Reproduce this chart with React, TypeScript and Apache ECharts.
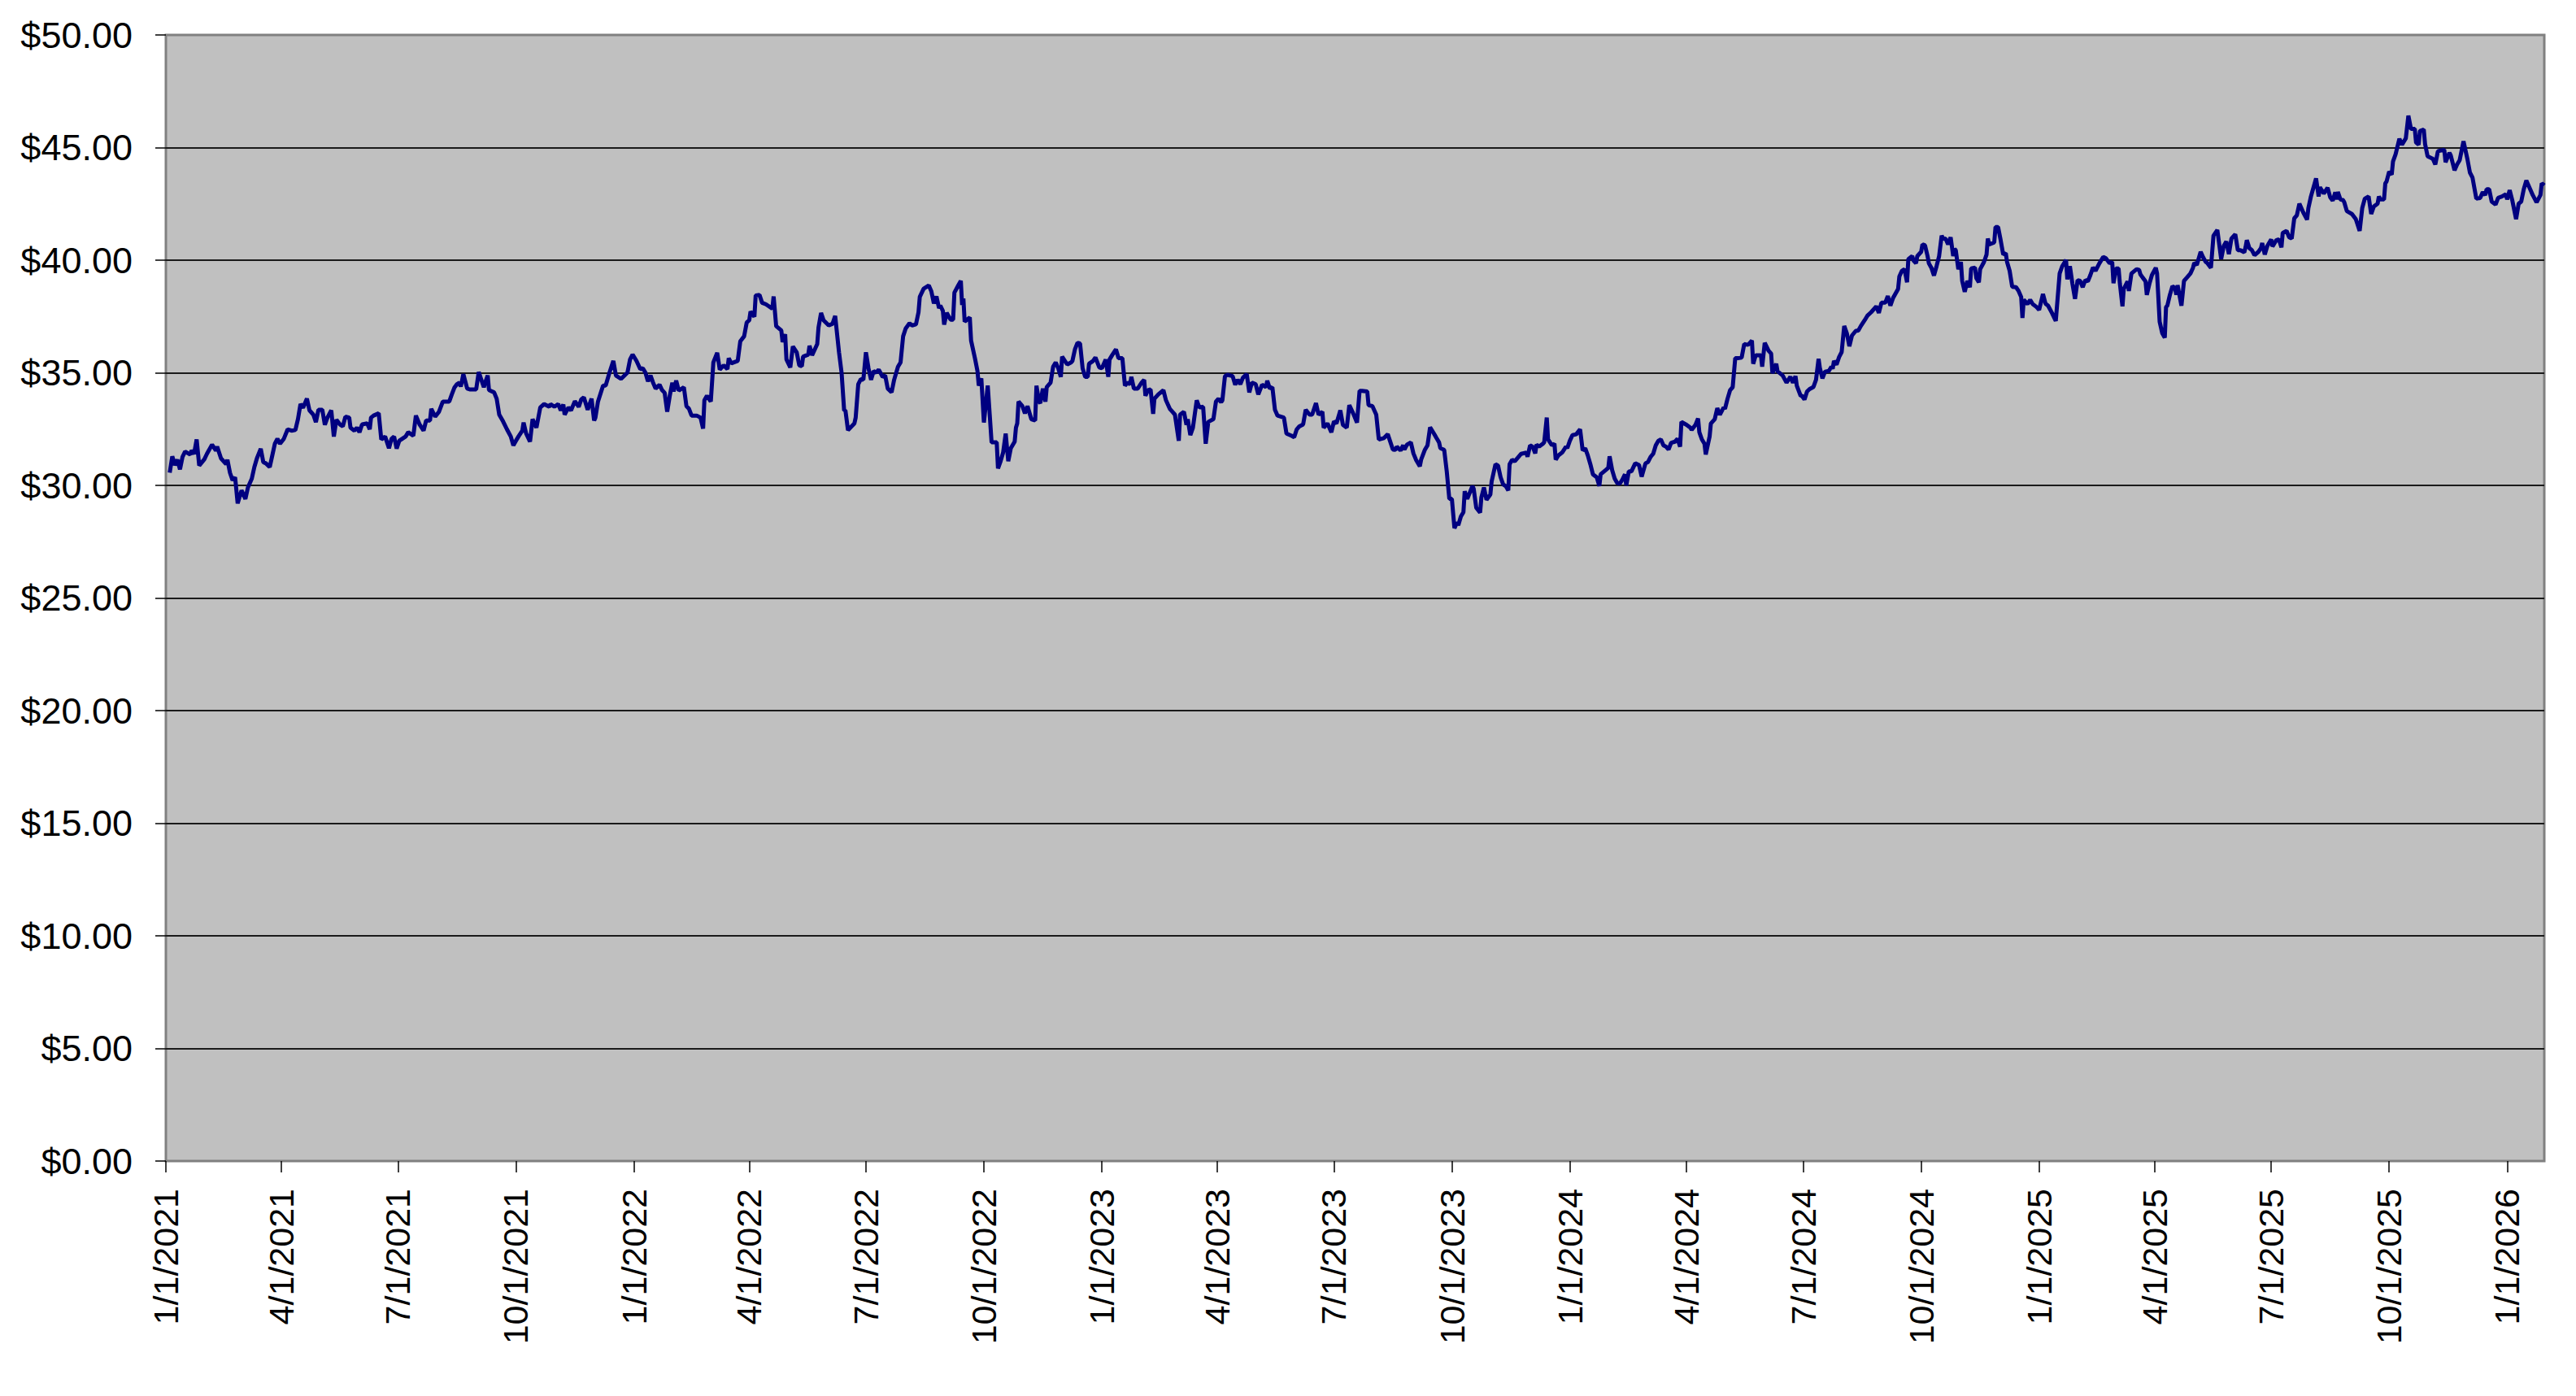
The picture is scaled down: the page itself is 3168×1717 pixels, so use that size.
import React, { useEffect, useRef } from "react";
import * as echarts from "echarts";

// Daily closing price readings, [date, price in USD]
const prices2021: [string, number][] = [
  ["2021-01-04",30.56],["2021-01-06",31.29],["2021-01-08",30.90],["2021-01-10",31.14],["2021-01-12",30.71],["2021-01-14",31.27],["2021-01-16",31.50],["2021-01-20",31.37],["2021-01-21",31.55],["2021-01-23",31.40],["2021-01-25",32.04],["2021-01-27",30.88],["2021-01-31",31.16],
  ["2021-02-02",31.40],["2021-02-06",31.81],["2021-02-09",31.55],["2021-02-10",31.72],["2021-02-13",31.20],["2021-02-17",30.94],["2021-02-18",31.14],["2021-02-20",30.56],["2021-02-22",30.23],["2021-02-24",30.36],["2021-02-26",29.20],
  ["2021-03-01",29.78],["2021-03-04",29.40],["2021-03-06",29.91],["2021-03-09",30.30],["2021-03-11",30.81],["2021-03-13",31.20],["2021-03-16",31.63],["2021-03-18",31.03],["2021-03-20",30.98],["2021-03-23",30.81],["2021-03-25",31.33],["2021-03-27",31.85],["2021-03-29",32.07],["2021-03-31",31.85],
  ["2021-04-03",32.07],["2021-04-06",32.49],["2021-04-09",32.43],["2021-04-12",32.46],["2021-04-14",32.94],["2021-04-16",33.61],["2021-04-18",33.45],["2021-04-21",33.85],["2021-04-23",33.33],["2021-04-26",33.14],["2021-04-28",32.81],["2021-04-30",33.36],
  ["2021-05-03",33.36],["2021-05-05",32.69],["2021-05-07",33.01],["2021-05-10",33.33],["2021-05-12",32.17],["2021-05-14",32.92],["2021-05-17",32.69],["2021-05-19",32.62],["2021-05-21",33.05],["2021-05-24",33.01],["2021-05-25",32.56],["2021-05-28",32.43],["2021-05-30",32.56],
  ["2021-06-01",32.36],["2021-06-03",32.71],["2021-06-07",32.75],["2021-06-09",32.49],["2021-06-10",33.01],["2021-06-12",33.10],["2021-06-16",33.20],["2021-06-18",32.04],["2021-06-21",32.17],["2021-06-24",31.65],["2021-06-26",32.07],["2021-06-28",32.17],["2021-06-30",31.63],
  ["2021-07-02",31.98],["2021-07-07",32.17],["2021-07-09",32.36],["2021-07-13",32.20],["2021-07-15",33.10],["2021-07-18",32.69],["2021-07-21",32.43],["2021-07-23",32.88],["2021-07-26",32.88],["2021-07-27",33.40],["2021-07-30",33.05],
  ["2021-08-02",33.27],["2021-08-05",33.72],["2021-08-10",33.72],["2021-08-12",34.04],["2021-08-14",34.34],["2021-08-16",34.49],["2021-08-18",34.56],["2021-08-19",34.39],["2021-08-21",34.94],["2021-08-24",34.30],["2021-08-26",34.26],["2021-08-31",34.26],
  ["2021-09-02",35.03],["2021-09-06",34.36],["2021-09-07",34.56],["2021-09-09",34.88],["2021-09-10",34.23],["2021-09-14",34.13],["2021-09-16",33.85],["2021-09-18",33.14],["2021-09-21",32.84],["2021-09-24",32.49],["2021-09-27",32.17],["2021-09-29",31.78],
  ["2021-10-01",31.98],["2021-10-03",32.17],["2021-10-06",32.43],["2021-10-07",32.79],["2021-10-09",32.30],["2021-10-12",31.94],["2021-10-14",32.94],["2021-10-17",32.56],["2021-10-20",33.46],["2021-10-23",33.61],["2021-10-27",33.49],["2021-10-28",33.61],["2021-10-31",33.49],
  ["2021-11-03",33.61],["2021-11-05",33.33],["2021-11-07",33.59],["2021-11-08",33.14],["2021-11-11",33.46],["2021-11-13",33.33],["2021-11-16",33.74],["2021-11-19",33.49],["2021-11-21",33.82],["2021-11-23",33.91],["2021-11-26",33.36],["2021-11-29",33.85],
  ["2021-12-01",32.88],["2021-12-02",33.01],["2021-12-04",33.72],["2021-12-08",34.43],["2021-12-10",34.43],["2021-12-13",35.01],["2021-12-16",35.53],["2021-12-18",34.88],["2021-12-22",34.73],["2021-12-27",35.01],["2021-12-29",35.59],["2021-12-31",35.81]
];

const prices2022: [string, number][] = [
  ["2022-01-03",35.53],["2022-01-06",35.16],["2022-01-08",35.20],["2022-01-10",35.01],["2022-01-12",34.62],["2022-01-14",34.88],["2022-01-16",34.56],["2022-01-18",34.30],["2022-01-21",34.47],["2022-01-23",34.23],["2022-01-25",34.11],["2022-01-27",33.27],["2022-01-29",33.98],["2022-01-31",34.56],
  ["2022-02-01",34.17],["2022-02-03",34.65],["2022-02-05",34.21],["2022-02-09",34.36],["2022-02-11",33.52],["2022-02-13",33.40],["2022-02-15",33.10],["2022-02-19",33.10],["2022-02-22",33.01],["2022-02-24",32.52],["2022-02-25",33.78],["2022-02-27",33.98],
  ["2022-03-02",33.72],["2022-03-04",35.46],["2022-03-07",35.89],["2022-03-09",35.14],["2022-03-12",35.33],["2022-03-15",35.16],["2022-03-16",35.65],["2022-03-18",35.42],["2022-03-23",35.53],["2022-03-25",36.40],["2022-03-28",36.62],["2022-03-30",37.23],
  ["2022-04-01",37.33],["2022-04-02",37.72],["2022-04-05",37.49],["2022-04-06",38.43],["2022-04-09",38.46],["2022-04-11",38.11],["2022-04-14",38.04],["2022-04-19",37.85],["2022-04-20",38.39],["2022-04-22",37.07],["2022-04-26",36.88],["2022-04-27",36.36],["2022-04-29",36.71],["2022-04-30",35.59],
  ["2022-05-03",35.24],["2022-05-05",36.17],["2022-05-08",35.91],["2022-05-10",35.33],["2022-05-12",35.29],["2022-05-13",35.72],["2022-05-17",35.81],["2022-05-18",36.20],["2022-05-20",35.78],["2022-05-24",36.27],["2022-05-25",37.01],["2022-05-27",37.66],["2022-05-29",37.33],
  ["2022-06-02",37.10],["2022-06-05",37.18],["2022-06-07",37.53],["2022-06-10",35.91],["2022-06-12",35.01],["2022-06-14",33.33],["2022-06-15",33.33],["2022-06-17",32.45],["2022-06-22",32.75],["2022-06-23",33.01],["2022-06-25",34.49],["2022-06-27",34.72],["2022-06-29",34.69],
  ["2022-07-01",35.91],["2022-07-03",35.20],["2022-07-05",34.69],["2022-07-07",35.07],["2022-07-09",35.01],["2022-07-11",35.14],["2022-07-14",34.82],["2022-07-16",34.88],["2022-07-18",34.30],["2022-07-21",34.13],["2022-07-23",34.69],["2022-07-26",35.27],["2022-07-28",35.46],["2022-07-30",36.62],
  ["2022-08-01",36.97],["2022-08-04",37.20],["2022-08-06",37.10],["2022-08-09",37.15],["2022-08-11",37.69],["2022-08-12",38.37],["2022-08-15",38.73],["2022-08-19",38.88],["2022-08-21",38.62],["2022-08-23",38.08],["2022-08-25",38.39],["2022-08-27",37.87],["2022-08-28",37.98],["2022-08-30",37.75],["2022-08-31",37.14],
  ["2022-09-02",37.66],["2022-09-05",37.36],["2022-09-07",37.36],["2022-09-08",38.56],["2022-09-11",38.88],["2022-09-13",39.08],["2022-09-14",38.01],["2022-09-15",38.30],["2022-09-16",37.27],["2022-09-20",37.46],["2022-09-21",36.43],["2022-09-24",35.65],["2022-09-26",35.07],["2022-09-27",34.43],["2022-09-29",34.75],
  ["2022-10-01",32.79],["2022-10-04",34.43],["2022-10-07",31.91],["2022-10-11",31.91],["2022-10-12",30.75],["2022-10-14",31.07],["2022-10-16",31.46],["2022-10-18",32.30],["2022-10-20",31.07],["2022-10-22",31.65],["2022-10-25",31.94],["2022-10-26",32.56],["2022-10-27",32.75],["2022-10-28",33.72],["2022-10-31",33.52],
  ["2022-11-02",33.20],["2022-11-04",33.52],["2022-11-07",32.94],["2022-11-10",32.88],["2022-11-11",34.43],["2022-11-13",33.72],["2022-11-14",33.65],["2022-11-16",34.30],["2022-11-18",33.72],["2022-11-19",34.36],["2022-11-22",34.56],["2022-11-24",35.27],["2022-11-26",35.46],["2022-11-28",35.20],["2022-11-30",34.82],
  ["2022-12-01",35.72],["2022-12-05",35.37],["2022-12-08",35.46],["2022-12-09",35.52],["2022-12-11",36.04],["2022-12-13",36.33],["2022-12-15",36.30],["2022-12-17",35.20],["2022-12-19",34.82],["2022-12-21",34.82],["2022-12-22",35.40],["2022-12-25",35.52],["2022-12-27",35.68],["2022-12-30",35.24]
];

const prices2023: [string, number][] = [
  ["2023-01-01",35.20],["2023-01-04",35.59],["2023-01-06",34.82],["2023-01-07",35.59],["2023-01-09",35.78],["2023-01-12",36.04],["2023-01-14",35.65],["2023-01-17",35.65],["2023-01-19",34.43],["2023-01-21",34.56],["2023-01-23",34.49],["2023-01-24",34.82],["2023-01-26",34.30],["2023-01-29",34.30],
  ["2023-02-01",34.56],["2023-02-03",34.69],["2023-02-04",33.98],["2023-02-06",34.23],["2023-02-08",34.26],["2023-02-10",33.18],["2023-02-11",33.85],["2023-02-14",34.04],["2023-02-18",34.23],["2023-02-20",33.78],["2023-02-23",33.40],["2023-02-25",33.27],["2023-02-27",33.14],
  ["2023-03-02",31.98],["2023-03-03",33.14],["2023-03-06",33.27],["2023-03-08",32.69],["2023-03-09",32.94],["2023-03-11",32.23],["2023-03-13",32.56],["2023-03-16",33.78],["2023-03-18",33.46],["2023-03-21",33.49],["2023-03-23",31.85],["2023-03-25",32.82],["2023-03-29",32.94],["2023-03-31",33.72],
  ["2023-04-02",33.85],["2023-04-04",33.69],["2023-04-05",33.78],["2023-04-07",34.85],["2023-04-09",34.91],["2023-04-13",34.85],["2023-04-15",34.47],["2023-04-17",34.69],["2023-04-19",34.49],["2023-04-21",34.78],["2023-04-24",34.94],["2023-04-26",34.13],["2023-04-28",34.56],
  ["2023-05-01",34.49],["2023-05-03",34.04],["2023-05-06",34.47],["2023-05-09",34.36],["2023-05-10",34.65],["2023-05-12",34.30],["2023-05-14",34.36],["2023-05-16",33.36],["2023-05-18",33.10],["2023-05-23",33.01],["2023-05-25",32.30],["2023-05-29",32.20],["2023-05-31",32.14],
  ["2023-06-02",32.49],["2023-06-04",32.62],["2023-06-07",32.71],["2023-06-09",33.36],["2023-06-12",33.14],["2023-06-14",33.14],["2023-06-17",33.65],["2023-06-19",33.14],["2023-06-22",33.27],["2023-06-23",32.56],["2023-06-26",32.75],["2023-06-29",32.36],
  ["2023-07-01",32.84],["2023-07-03",32.75],["2023-07-06",33.33],["2023-07-08",32.69],["2023-07-11",32.56],["2023-07-13",33.56],["2023-07-16",33.20],["2023-07-19",32.79],["2023-07-21",34.20],["2023-07-23",34.20],["2023-07-27",34.17],["2023-07-28",33.56],["2023-07-31",33.52],
  ["2023-08-03",33.14],["2023-08-05",32.04],["2023-08-09",32.10],["2023-08-12",32.27],["2023-08-16",31.59],["2023-08-18",31.58],["2023-08-19",31.72],["2023-08-22",31.55],["2023-08-24",31.78],["2023-08-25",31.59],["2023-08-27",31.81],["2023-08-30",31.91],
  ["2023-09-01",31.42],["2023-09-03",31.14],["2023-09-06",30.85],["2023-09-07",31.14],["2023-09-10",31.59],["2023-09-12",31.78],["2023-09-14",32.58],["2023-09-17",32.30],["2023-09-19",32.10],["2023-09-21",31.91],["2023-09-22",31.65],["2023-09-25",31.58],["2023-09-27",30.62],["2023-09-29",29.40],
  ["2023-10-01",29.40],["2023-10-03",28.10],["2023-10-05",28.36],["2023-10-06",28.23],["2023-10-08",28.62],["2023-10-10",28.81],["2023-10-11",29.74],["2023-10-13",29.40],["2023-10-17",29.97],["2023-10-18",29.85],["2023-10-20",29.01],["2023-10-23",28.79],["2023-10-24",29.46],["2023-10-26",29.91],["2023-10-28",29.36],["2023-10-31",29.59],
  ["2023-11-01",30.17],["2023-11-04",30.94],["2023-11-06",30.88],["2023-11-08",30.36],["2023-11-10",30.04],["2023-11-12",29.97],["2023-11-14",29.78],["2023-11-15",30.94],["2023-11-17",31.14],["2023-11-19",31.07],["2023-11-22",31.27],["2023-11-24",31.40],["2023-11-28",31.46],["2023-11-29",31.27],
  ["2023-12-01",31.78],["2023-12-03",31.72],["2023-12-05",31.42],["2023-12-06",31.81],["2023-12-08",31.72],["2023-12-11",31.85],["2023-12-12",31.91],["2023-12-14",33.01],["2023-12-15",32.04],["2023-12-18",31.78],["2023-12-20",31.85],["2023-12-21",31.14],["2023-12-23",31.33],["2023-12-26",31.46],["2023-12-29",31.72],["2023-12-30",31.65]
];

const prices2024: [string, number][] = [
  ["2024-01-01",31.98],["2024-01-03",32.23],["2024-01-06",32.27],["2024-01-09",32.49],["2024-01-11",31.55],["2024-01-13",31.65],["2024-01-15",31.33],["2024-01-17",30.94],["2024-01-19",30.49],["2024-01-22",30.36],["2024-01-24",29.97],["2024-01-25",30.49],["2024-01-29",30.68],["2024-01-31",30.78],
  ["2024-02-01",31.29],["2024-02-03",30.68],["2024-02-05",30.30],["2024-02-07",30.10],["2024-02-09",30.08],["2024-02-11",30.26],["2024-02-13",30.49],["2024-02-14",30.00],["2024-02-16",30.62],["2024-02-18",30.62],["2024-02-21",30.98],["2024-02-24",30.90],["2024-02-26",30.39],["2024-02-29",30.98],
  ["2024-03-02",31.04],["2024-03-04",31.27],["2024-03-06",31.40],["2024-03-08",31.78],["2024-03-10",31.98],["2024-03-12",32.04],["2024-03-14",31.78],["2024-03-16",31.72],["2024-03-18",31.59],["2024-03-20",31.89],["2024-03-23",31.94],["2024-03-25",32.07],["2024-03-27",31.72],["2024-03-28",32.82],
  ["2024-04-01",32.69],["2024-04-04",32.56],["2024-04-05",32.46],["2024-04-08",32.69],["2024-04-10",32.97],["2024-04-11",32.36],["2024-04-13",32.04],["2024-04-15",31.85],["2024-04-16",31.37],["2024-04-19",32.17],["2024-04-20",32.75],["2024-04-23",32.94],["2024-04-25",33.43],["2024-04-27",33.14],["2024-04-30",33.46],
  ["2024-05-01",33.40],["2024-05-03",33.85],["2024-05-05",34.23],["2024-05-07",34.36],["2024-05-09",35.65],["2024-05-11",35.65],["2024-05-14",35.68],["2024-05-16",36.27],["2024-05-19",36.24],["2024-05-22",36.43],["2024-05-23",35.40],["2024-05-25",35.78],["2024-05-29",35.78],["2024-05-30",35.27],
  ["2024-06-01",36.33],["2024-06-04",35.98],["2024-06-06",35.85],["2024-06-07",34.98],["2024-06-10",35.40],["2024-06-11",35.07],["2024-06-15",34.88],["2024-06-18",34.56],["2024-06-21",34.82],["2024-06-23",34.56],["2024-06-25",34.85],["2024-06-26",34.43],["2024-06-29",33.98],["2024-06-30",33.98],
  ["2024-07-02",33.81],["2024-07-04",34.17],["2024-07-06",34.28],["2024-07-09",34.37],["2024-07-11",34.69],["2024-07-13",35.62],["2024-07-14",35.21],["2024-07-16",34.75],["2024-07-18",35.05],["2024-07-21",35.08],["2024-07-23",35.27],["2024-07-24",35.18],["2024-07-25",35.53],["2024-07-27",35.36],["2024-07-29",35.70],["2024-07-31",35.92],
  ["2024-08-02",37.08],["2024-08-04",36.76],["2024-08-06",36.18],["2024-08-08",36.65],["2024-08-11",36.86],["2024-08-13",36.88],["2024-08-15",37.08],["2024-08-18",37.34],["2024-08-20",37.53],["2024-08-23",37.69],["2024-08-27",37.95],["2024-08-29",37.66],["2024-08-31",38.11],
  ["2024-09-03",38.11],["2024-09-05",38.41],["2024-09-07",37.98],["2024-09-09",38.31],["2024-09-13",38.72],["2024-09-14",39.28],["2024-09-16",39.53],["2024-09-18",39.60],["2024-09-20",39.02],["2024-09-21",40.05],["2024-09-24",40.18],["2024-09-25",39.99],["2024-09-27",39.86],["2024-09-28",40.18],
  ["2024-10-01",40.37],["2024-10-02",40.70],["2024-10-04",40.66],["2024-10-06",40.18],["2024-10-07",39.86],["2024-10-09",39.66],["2024-10-11",39.32],["2024-10-13",39.73],["2024-10-15",40.18],["2024-10-17",41.09],["2024-10-18",40.96],["2024-10-20",40.96],["2024-10-22",40.70],["2024-10-24",41.02],["2024-10-26",40.18],["2024-10-27",40.50],["2024-10-28",40.44],["2024-10-30",39.60],
  ["2024-11-01",39.92],["2024-11-02",39.08],["2024-11-04",38.59],["2024-11-06",39.08],["2024-11-08",38.80],["2024-11-09",39.63],["2024-11-12",39.67],["2024-11-13",39.21],["2024-11-15",39.02],["2024-11-16",39.60],["2024-11-19",39.92],["2024-11-21",40.25],["2024-11-22",40.96],["2024-11-23",40.70],["2024-11-27",40.79],["2024-11-28",41.47],["2024-11-30",41.47],
  ["2024-12-02",40.89],["2024-12-04",40.25],["2024-12-06",40.31],["2024-12-07",39.92],["2024-12-09",39.53],["2024-12-11",38.82],["2024-12-14",38.80],["2024-12-16",38.63],["2024-12-18",38.37],["2024-12-19",37.43],["2024-12-20",38.24],["2024-12-23",38.05],["2024-12-25",38.24],["2024-12-27",38.05],["2024-12-30",37.92]
];

const prices2025: [string, number][] = [
  ["2025-01-01",37.79],["2025-01-04",38.50],["2025-01-06",38.07],["2025-01-08",37.98],["2025-01-11",37.66],["2025-01-14",37.30],["2025-01-16",38.70],["2025-01-17",39.41],["2025-01-19",39.73],["2025-01-22",40.01],["2025-01-23",39.15],["2025-01-25",39.73],["2025-01-27",38.95],["2025-01-29",38.28],["2025-01-31",39.11],
  ["2025-02-02",39.08],["2025-02-04",38.80],["2025-02-06",39.11],["2025-02-08",39.06],["2025-02-10",39.34],["2025-02-12",39.67],["2025-02-14",39.53],["2025-02-17",39.86],["2025-02-20",40.14],["2025-02-22",40.09],["2025-02-25",39.86],["2025-02-27",39.92],["2025-02-28",38.98],
  ["2025-03-02",39.63],["2025-03-04",39.63],["2025-03-05",38.95],["2025-03-07",37.95],["2025-03-08",38.72],["2025-03-11",39.06],["2025-03-12",38.63],["2025-03-14",39.41],["2025-03-18",39.60],["2025-03-20",39.57],["2025-03-21",39.37],["2025-03-23",39.21],["2025-03-25",39.06],["2025-03-26",38.46],["2025-03-28",38.95],["2025-03-30",39.34],
  ["2025-04-02",39.66],["2025-04-03",39.41],["2025-04-05",37.27],["2025-04-07",36.76],["2025-04-09",36.56],["2025-04-10",37.92],["2025-04-11",37.98],["2025-04-13",38.46],["2025-04-15",38.85],["2025-04-17",38.76],["2025-04-18",38.46],["2025-04-19",38.89],["2025-04-22",37.98],["2025-04-24",39.08],["2025-04-26",39.21],["2025-04-29",39.41],
  ["2025-05-01",39.66],["2025-05-02",39.88],["2025-05-04",39.79],["2025-05-07",40.37],["2025-05-09",40.12],["2025-05-11",39.92],["2025-05-12",39.88],["2025-05-15",39.66],["2025-05-17",41.09],["2025-05-20",41.34],["2025-05-23",40.05],["2025-05-25",40.63],["2025-05-27",40.83],["2025-05-29",40.27],["2025-05-31",40.96],
  ["2025-06-03",41.15],["2025-06-05",40.44],["2025-06-07",40.44],["2025-06-10",40.35],["2025-06-11",40.57],["2025-06-12",40.89],["2025-06-14",40.53],["2025-06-16",40.44],["2025-06-18",40.22],["2025-06-21",40.37],["2025-06-23",40.53],["2025-06-24",40.76],["2025-06-26",40.25],["2025-06-28",40.63],
  ["2025-07-01",40.92],["2025-07-02",40.61],["2025-07-05",40.89],["2025-07-07",40.92],["2025-07-09",40.57],["2025-07-10",41.21],["2025-07-13",41.30],["2025-07-15",41.02],["2025-07-17",40.96],["2025-07-19",41.86],["2025-07-21",41.99],["2025-07-23",42.51],["2025-07-26",42.12],["2025-07-29",41.80],["2025-07-30",42.31],
  ["2025-08-01",42.83],["2025-08-05",43.63],["2025-08-07",42.83],["2025-08-08",43.24],["2025-08-11",42.96],["2025-08-14",43.22],["2025-08-16",42.80],["2025-08-18",42.64],["2025-08-20",43.02],["2025-08-21",42.70],["2025-08-22",43.03],["2025-08-24",42.70],["2025-08-26",42.67],["2025-08-27",42.57],["2025-08-29",42.18],
  ["2025-09-02",42.05],["2025-09-05",41.82],["2025-09-08",41.30],["2025-09-10",42.31],["2025-09-12",42.73],["2025-09-15",42.83],["2025-09-17",42.05],["2025-09-19",42.38],["2025-09-22",42.51],["2025-09-23",42.83],["2025-09-24",42.70],["2025-09-27",42.70],["2025-09-28",43.41],["2025-09-29",43.50],
  ["2025-10-01",43.93],["2025-10-03",43.80],["2025-10-04",44.38],["2025-10-06",44.70],["2025-10-09",45.39],["2025-10-11",45.13],["2025-10-14",45.41],["2025-10-16",46.42],["2025-10-18",45.83],["2025-10-21",45.83],["2025-10-22",45.22],["2025-10-24",45.13],["2025-10-25",45.74],["2025-10-28",45.80],["2025-10-29",45.16],["2025-10-31",44.61],
  ["2025-11-03",44.53],["2025-11-04",44.51],["2025-11-06",44.25],["2025-11-08",44.83],["2025-11-10",44.87],["2025-11-13",44.90],["2025-11-14",44.35],["2025-11-17",44.77],["2025-11-18",44.66],["2025-11-21",43.99],["2025-11-23",44.25],["2025-11-25",44.44],["2025-11-28",45.28],
  ["2025-12-01",44.50],["2025-12-03",43.89],["2025-12-05",43.67],["2025-12-08",42.73],["2025-12-11",42.76],["2025-12-13",43.02],["2025-12-15",42.89],["2025-12-16",43.15],["2025-12-18",43.15],["2025-12-20",42.60],["2025-12-23",42.47],["2025-12-25",42.77],["2025-12-28",42.83],["2025-12-31",42.93]
];

const prices2026: [string, number][] = [
  ["2026-01-01",42.70],["2026-01-03",43.11],["2026-01-05",42.67],["2026-01-08",41.82],["2026-01-10",42.51],["2026-01-12",42.60],["2026-01-14",43.15],["2026-01-16",43.54],["2026-01-19",43.15],["2026-01-21",42.89],["2026-01-24",42.57],["2026-01-27",42.89],["2026-01-28",43.41],["2026-01-30",43.32]
];

// Axis range and quarterly tick months
const axisStart = "2021-01-01";
const axisEnd = "2026-01-30";
const tickMonths = [1, 4, 7, 10];
const yTicks = { min: 0, max: 50, interval: 5 };

function buildDays(start: string, end: string): string[] {
  const out: string[] = [];
  const s = new Date(start + "T00:00:00Z").getTime();
  const e = new Date(end + "T00:00:00Z").getTime();
  for (let t = s; t <= e; t += 86400000) {
    out.push(new Date(t).toISOString().slice(0, 10));
  }
  return out;
}

function isQuarterStart(v: string): boolean {
  const m = parseInt(v.slice(5, 7), 10);
  const d = parseInt(v.slice(8, 10), 10);
  return d === 1 && tickMonths.indexOf(m) >= 0;
}

function fmtDate(v: string): string {
  const y = v.slice(0, 4);
  const m = parseInt(v.slice(5, 7), 10);
  const d = parseInt(v.slice(8, 10), 10);
  return `${m}/${d}/${y}`;
}

export default function App() {
  const ref = useRef<HTMLDivElement>(null);
  useEffect(() => {
    if (!ref.current) return;
    const chart = echarts.init(ref.current, null, { renderer: "svg" });
    const days = buildDays(axisStart, axisEnd);
    const data = [
      ...prices2021, ...prices2022, ...prices2023, ...prices2024, ...prices2025, ...prices2026,
    ];
    const font = "'Liberation Sans', Arial, Helvetica, sans-serif";
    chart.setOption({
      animation: false,
      backgroundColor: "#ffffff",
      grid: {
        left: 204,
        right: 39,
        top: 43,
        bottom: 289,
        show: true,
        backgroundColor: "#C0C0C0",
        borderColor: "#808080",
        borderWidth: 3,
      },
      xAxis: {
        type: "category",
        data: days,
        boundaryGap: false,
        axisLine: { show: false },
        axisTick: {
          show: true,
          inside: false,
          length: 14,
          interval: (_i: number, v: string) => isQuarterStart(v),
          lineStyle: { color: "#000000", width: 1.5 },
        },
        axisLabel: {
          show: true,
          rotate: 90,
          margin: 34,
          interval: (_i: number, v: string) => isQuarterStart(v),
          formatter: (v: string) => fmtDate(v),
          color: "#000000",
          fontSize: 43,
          fontFamily: font,
        },
        splitLine: { show: false },
      },
      yAxis: {
        type: "value",
        min: yTicks.min,
        max: yTicks.max,
        interval: yTicks.interval,
        axisLine: { show: false },
        axisTick: {
          show: true,
          inside: false,
          length: 13,
          lineStyle: { color: "#000000", width: 1.5 },
        },
        axisLabel: {
          margin: 41,
          color: "#000000",
          fontSize: 45,
          fontFamily: font,
          formatter: (v: number) => "$" + v.toFixed(2),
        },
        splitLine: {
          show: true,
          showMinLine: false,
          showMaxLine: false,
          lineStyle: { color: "#1a1a1a", width: 2 },
        },
      },
      series: [
        {
          type: "line",
          data,
          showSymbol: false,
          symbol: "none",
          lineStyle: { color: "#000080", width: 5 },
          itemStyle: { color: "#000080" },
          z: 3,
        },
      ],
    });
    return () => chart.dispose();
  }, []);
  return (
    <div
      ref={ref}
      style={{ position: "absolute", left: 0, top: 0, width: 3168, height: 1717 }}
    />
  );
}
